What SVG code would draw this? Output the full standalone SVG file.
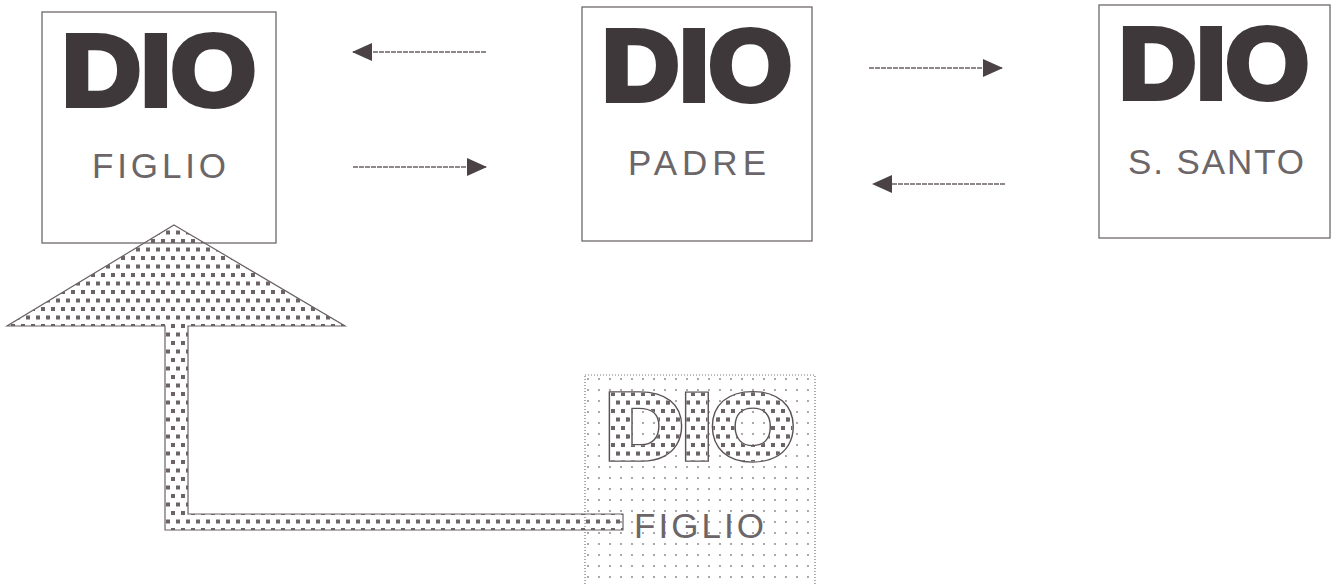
<svg xmlns="http://www.w3.org/2000/svg" width="1339" height="584" viewBox="0 0 1339 584">
<defs>
<style>
.box{fill:#ffffff;stroke:#6f686b;stroke-width:1.3}
.dio{font-family:"Liberation Sans",Arial,sans-serif;font-weight:bold;font-size:100px;fill:#3f383b;stroke:#3f383b;stroke-width:6;stroke-linejoin:miter;text-anchor:middle}
.sub{font-family:"Liberation Sans",Arial,sans-serif;font-size:35px;fill:#6c6669;text-anchor:middle}
.conn{stroke:#6a6266;stroke-width:1.6;fill:none;stroke-dasharray:5 1}
.dio2{font-family:"Liberation Sans",Arial,sans-serif;font-weight:bold;font-size:90px;text-anchor:middle;stroke-linejoin:miter}
</style>
<pattern id="sq" width="10" height="17" patternUnits="userSpaceOnUse">
<rect x="1" y="1" width="4" height="4" fill="#6b6366"/>
<rect x="6" y="9.5" width="4" height="4" fill="#6b6366"/>
</pattern>
<pattern id="dots" width="11" height="11" patternUnits="userSpaceOnUse">
<circle cx="5" cy="5" r="0.9" fill="#857f82"/>
</pattern>
<marker id="ah" viewBox="0 0 20 18" refX="19" refY="9" markerWidth="20" markerHeight="18" markerUnits="userSpaceOnUse" orient="auto">
<path d="M0,0 L20,9 L0,18 Z" fill="#4a4245"/>
</marker>
</defs>
<rect width="1339" height="584" fill="#ffffff"/>

<g id="connectors">
<line class="conn" x1="486" y1="52" x2="353" y2="52" marker-end="url(#ah)"/>
<line class="conn" x1="353" y1="167" x2="486" y2="167" marker-end="url(#ah)"/>
<line class="conn" x1="869" y1="68" x2="1002" y2="68" marker-end="url(#ah)"/>
<line class="conn" x1="1005" y1="184" x2="873" y2="184" marker-end="url(#ah)"/>
</g>

<g id="node-figlio">
<rect class="box" x="42" y="12" width="234" height="231"/>
<text class="dio" x="159" y="105" textLength="194" lengthAdjust="spacingAndGlyphs">DIO</text>
<text class="sub" x="159" y="178" textLength="134" lengthAdjust="spacing">FIGLIO</text>
</g>

<g id="node-padre">
<rect class="box" x="582" y="7" width="230" height="234"/>
<text class="dio" x="697" y="100" textLength="190" lengthAdjust="spacingAndGlyphs">DIO</text>
<text class="sub" x="697" y="175" textLength="138" lengthAdjust="spacing">PADRE</text>
</g>

<g id="node-santo">
<rect class="box" x="1099" y="5" width="231" height="233"/>
<text class="dio" x="1214" y="98" textLength="190" lengthAdjust="spacingAndGlyphs">DIO</text>
<text class="sub" x="1216" y="174" textLength="176" lengthAdjust="spacing">S. SANTO</text>
</g>

<g id="node-figlio-incarnato">
<rect x="585" y="375" width="230" height="215" fill="url(#dots)" stroke="#7a7376" stroke-width="1.2" stroke-dasharray="1 2"/>
<text class="dio2" x="700" y="458" textLength="188" lengthAdjust="spacingAndGlyphs" fill="#5a5255" stroke="#5a5255" stroke-width="7.5">DIO</text>
<text class="dio2" x="700" y="458" textLength="188" lengthAdjust="spacingAndGlyphs" fill="#ffffff" stroke="#ffffff" stroke-width="5">DIO</text>
<text class="dio2" x="700" y="458" textLength="188" lengthAdjust="spacingAndGlyphs" fill="url(#sq)" stroke="url(#sq)" stroke-width="5">DIO</text>
<text class="sub" x="699" y="538" textLength="130" lengthAdjust="spacing">FIGLIO</text>
</g>

<g id="big-arrow">
<path d="M174,225 L345,326 L188,326 L188,514 L623,514 L623,530 L165,530 L165,326 L7,326 Z" fill="url(#sq)" stroke="#6a6266" stroke-width="1.2"/>
</g>
</svg>
